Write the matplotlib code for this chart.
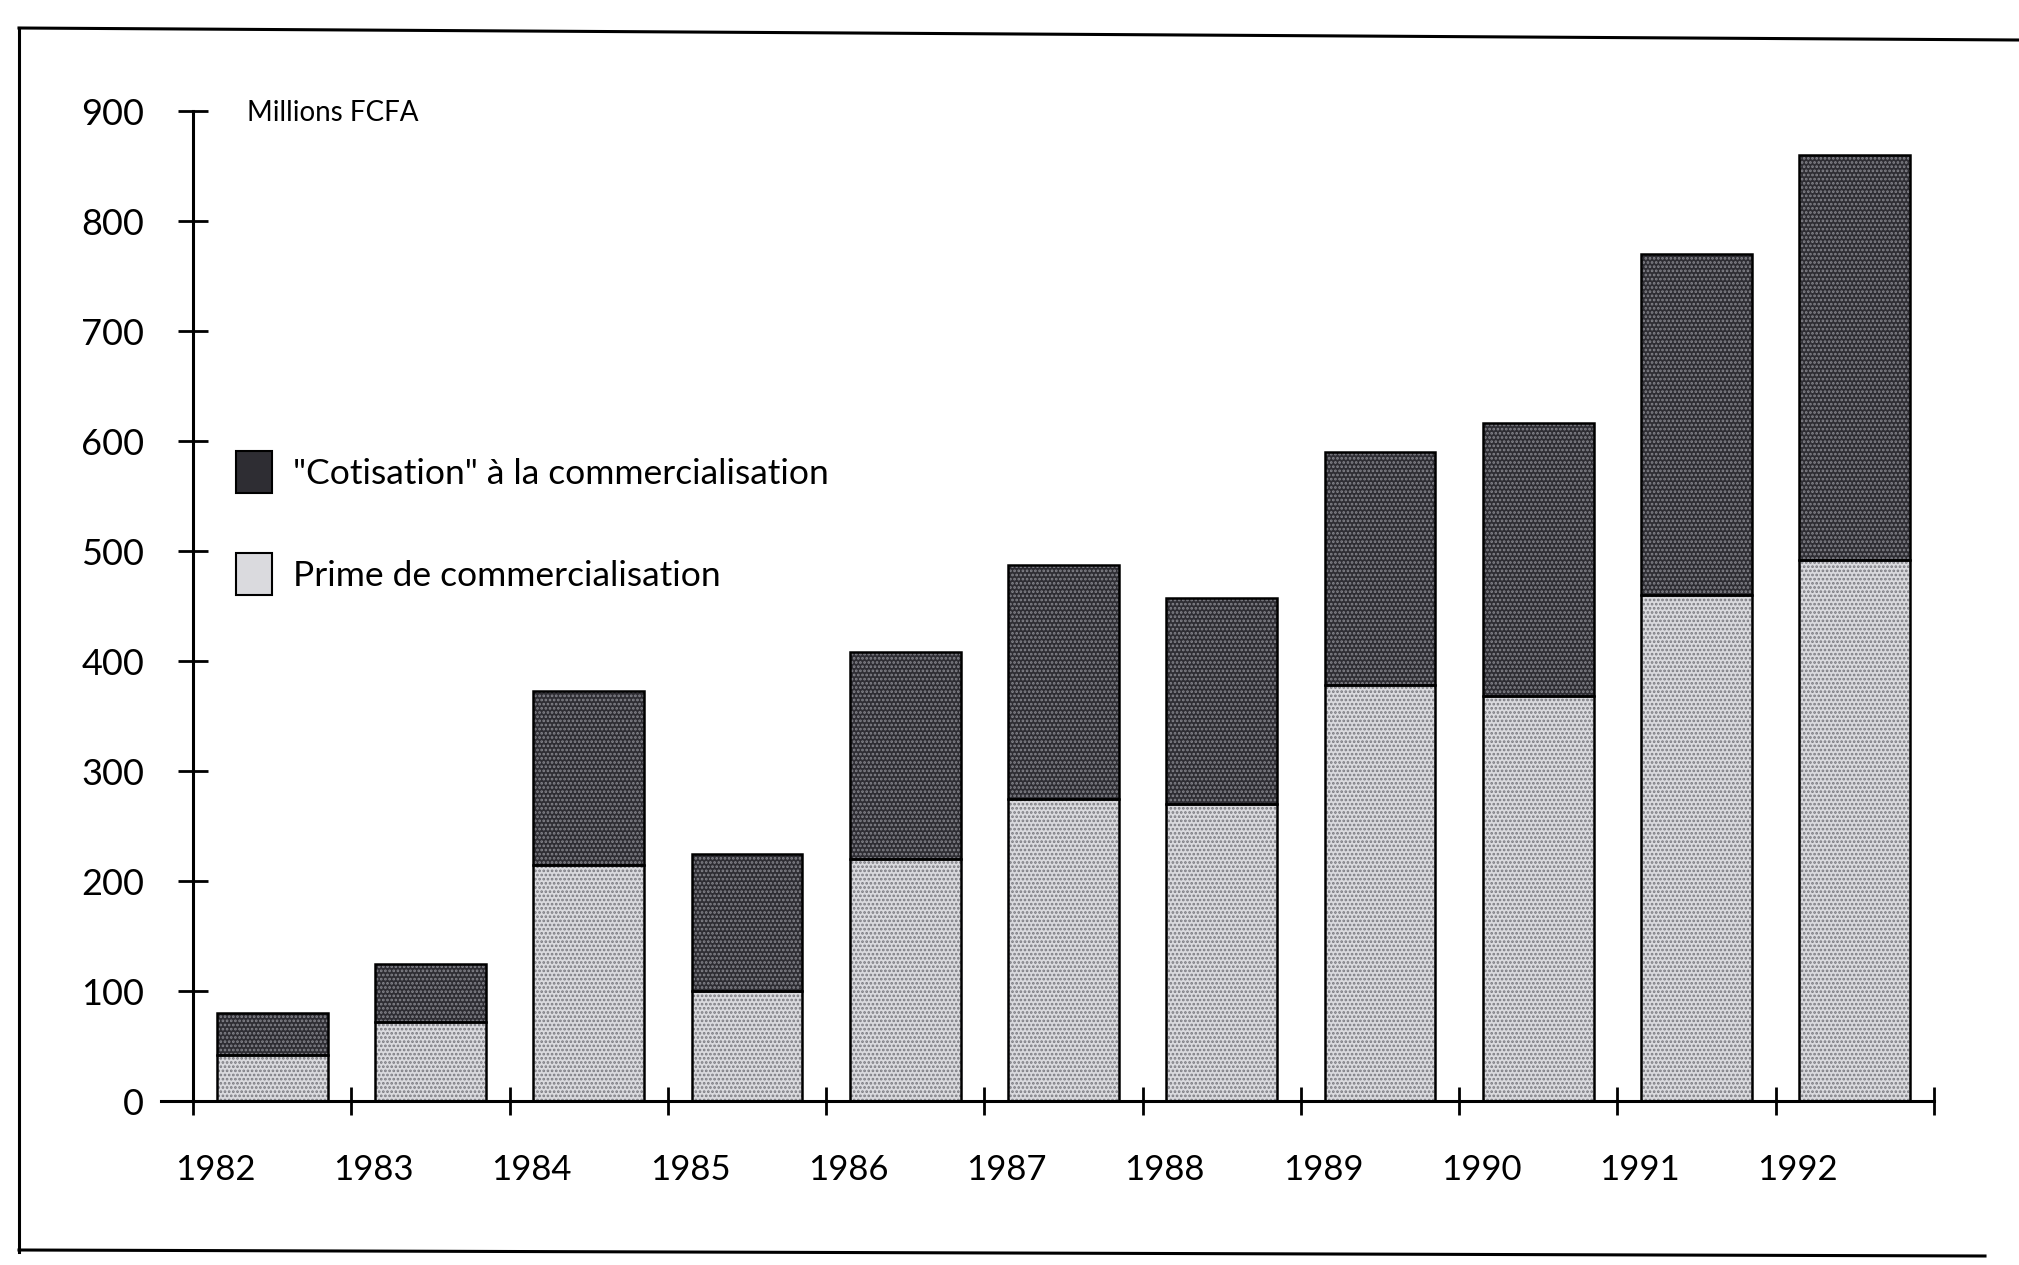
import numpy as np
import matplotlib
matplotlib.use("Agg")
import matplotlib.pyplot as plt
from matplotlib.patches import Patch
from matplotlib.lines import Line2D

plt.rcParams['font.family'] = ['Lato', 'DejaVu Sans']
plt.rcParams['hatch.linewidth'] = 1.3

# marketing premium / levy, millions FCFA
years = ["1982", "1983", "1984", "1985", "1986", "1987", "1988", "1989", "1990", "1991", "1992"]
prime = [42, 72, 215, 100, 220, 275, 270, 378, 368, 460, 492]
cotisation = [38, 53, 158, 125, 188, 212, 187, 212, 248, 310, 368]

dark = "#2e2d33"
dark_dots = "#85858c"
light = "#dadade"
light_dots = "#7a7a80"

fig = plt.figure(figsize=(20.19, 12.65), dpi=100)
ax = fig.add_axes([0.0799, 0.1296, 0.878, 0.7826])

x = np.arange(len(years))
w = 0.7

# textured fill first, then a plain black outline on top
ax.bar(x, prime, w, color=light, edgecolor=light_dots, hatch="....", linewidth=0)
ax.bar(x, cotisation, w, bottom=prime, color=dark, edgecolor=dark_dots, hatch="....", linewidth=0)
ax.bar(x, prime, w, fill=False, edgecolor="black", linewidth=1.8)
ax.bar(x, cotisation, w, bottom=prime, fill=False, edgecolor="black", linewidth=1.8)

ax.set_xlim(-0.7, 10.5)
ax.set_ylim(0, 900)

for s in ["top", "right"]:
    ax.spines[s].set_visible(False)
ax.spines["left"].set_position(("data", -0.5))
ax.spines["left"].set_bounds(0, 900)
ax.spines["left"].set_linewidth(2.2)
ax.spines["bottom"].set_linewidth(2.2)

ax.set_yticks(np.arange(0, 901, 100))
ax.tick_params(axis="y", direction="inout", length=22, width=2, pad=24, labelsize=26)

# ticks between the bars, year labels set slightly left of each bar
ax.set_xticks(np.arange(-0.5, 11, 1.0))
ax.set_xticklabels([])
ax.tick_params(axis="x", which="major", direction="inout", length=20, width=2)
ax.set_xticks(x - 0.36, minor=True)
ax.set_xticklabels(years, minor=True)
ax.tick_params(axis="x", which="minor", length=0, pad=38, labelsize=25)

ax.text(-0.16, 898, "Millions FCFA", fontsize=20, va="center", ha="left")

handles = [
    Patch(facecolor=dark, edgecolor="black", linewidth=1.5, label='"Cotisation" à la commercialisation'),
    Patch(facecolor=light, edgecolor="black", linewidth=1.5, label="Prime de commercialisation"),
]
ax.legend(handles=handles, loc="upper left", bbox_to_anchor=(0.117, 0.6435),
          bbox_transform=fig.transFigure, frameon=False, fontsize=25.5,
          handlelength=1.0, handleheight=1.43, handletextpad=0.6,
          labelspacing=1.72, borderpad=0, borderaxespad=0)

# page frame around the figure
fig.add_artist(Line2D([19 / 2019, 1.0], [1 - 28 / 1265, 1 - 40 / 1265], color="black", linewidth=2.2))
fig.add_artist(Line2D([19 / 2019, 19 / 2019], [1 - 28 / 1265, 1 - 1252 / 1265], color="black", linewidth=2.2))
fig.add_artist(Line2D([19 / 2019, 1985 / 2019], [1 - 1250 / 1265, 1 - 1256 / 1265], color="black", linewidth=2.2))

fig.savefig("out.png", dpi=100)
